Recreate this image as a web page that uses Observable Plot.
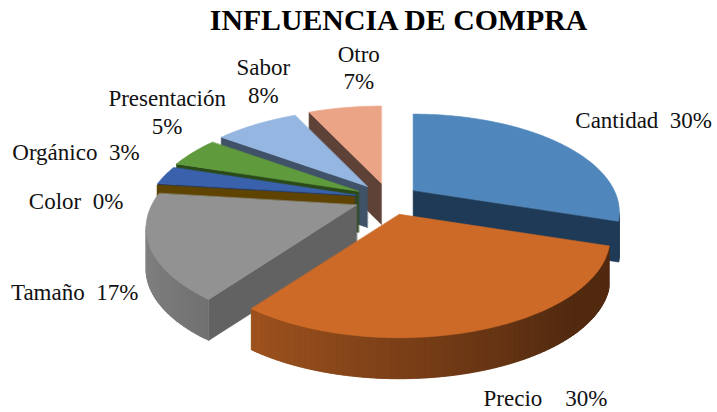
<!DOCTYPE html>
<html lang="es">
<head>
<meta charset="utf-8">
<script src="https://cdn.jsdelivr.net/npm/d3@7"></script>
<script src="https://cdn.jsdelivr.net/npm/@observablehq/plot@0.6"></script>
<style>
html,body{margin:0;padding:0;background:#fff;}
#title{height:36px;width:717px;text-align:center;padding-left:80px;box-sizing:border-box;font:bold 29.8px/39px "Liberation Serif",serif;color:#000;white-space:nowrap;}
svg{display:block;}
</style>
</head>
<body>
<div id="title">INFLUENCIA DE COMPRA</div>
<div id="chart"></div>
<script>
// Data
const categories = ["Cantidad","Precio","Tamaño","Color","Orgánico","Presentación","Sabor","Otro"];
const values = [30,30,17,0,3,5,8,7];
const nb = "\u00a0";
const labelSeparator = [nb+nb, nb+nb+nb+nb, nb+nb, nb+nb, nb+nb, "\n", "\n", "\n"];

// Styles
const topColors  = ["#4f87bc","#cd6a27","#929292","#ffc000","#3a62ac","#5f9a3c","#94b6e0","#eba486"];
const wallColors = ["#1f3a56","#5a2d0f","#626262","#5f4300","#233c69","#2a4a19","#3f5268","#5f4237"];
const labelOffsets = [[87,-23],[65,67],[-75,45],[-81,15],[-89,-24],[-26,-41],[7,-44],[14,-41]];
const sliceExplode = [0.15,0.165,0.165,0.165,0.165,0.165,0.165,0.165];
const sliceRadius  = [0.98,1,1,1,1,1,1,1];

// Projection of the tilted pie
const W = 717, H = 412, titleH = 36;
const cx = 388, cy = 198, a = 95, b = 205, k = 0.23, depth = 41;
const ax = 207, ay = 97.5, ak = 0.219;
const disc = (X, D) => {
  const w = 1 + k * D;
  return {x: b * X / w, y: -a * D / w};
};

const arcs = d3.pie().sort(null).startAngle(0).endAngle(2 * Math.PI)(values);
const slices = arcs.map((arc, i) => {
  const mid = (arc.startAngle + arc.endAngle) / 2;
  const ox = sliceExplode[i] * Math.sin(mid), oy = sliceExplode[i] * Math.cos(mid);
  const w = 1 + ak * oy;
  const apex = {x: cx + ax * ox / w, y: cy - ay * oy / w};
  const at = (theta, r, down) => {
    const p = disc(r * sliceRadius[i] * Math.sin(theta), r * sliceRadius[i] * Math.cos(theta));
    return {x: apex.x + p.x, y: apex.y + p.y + (down ? depth : 0)};
  };
  return {i, mid, start: arc.startAngle, end: arc.endAngle, at};
}).sort((p, q) => Math.cos(q.mid) - Math.cos(p.mid));

const shade = (hex, f) => {
  const c = d3.rgb(hex);
  return d3.rgb(c.r * f, c.g * f, c.b * f).formatHex();
};
const signedArea = (pts) => d3.sum(pts, (p, j) => {
  const q = pts[(j + 1) % pts.length];
  return p.x * q.y - q.x * p.y;
});

// Faces, painted from back to front
const faces = [];
let faceId = 0;
const addFace = (pts, color) => {
  const id = faceId++;
  pts.forEach(p => faces.push({id, x: p.x, y: p.y, color}));
};
for (const s of slices) {
  const steps = Math.max(1, Math.ceil((s.end - s.start) / (Math.PI / 120)));
  const thetas = d3.range(steps + 1).map(n => s.start + (s.end - s.start) * n / steps);
  const boundary = [
    {theta: 0, r: 0},
    ...thetas.map(theta => ({theta, r: 1})),
  ];
  const n = boundary.length;
  for (let j = 0; j < n; j++) {
    const P = boundary[j], Q = boundary[(j + 1) % n];
    const quad = [s.at(P.theta, P.r, false), s.at(Q.theta, Q.r, false), s.at(Q.theta, Q.r, true), s.at(P.theta, P.r, true)];
    if (signedArea(quad) >= 0) continue;
    let color = wallColors[s.i];
    if (P.r === 1 && Q.r === 1) {
      const X = Math.sin((P.theta + Q.theta) / 2);
      const f = Math.max(0.4, 0.6 - 0.29 * X);
      color = shade(topColors[s.i], f);
      // each strip runs under the next one so no seam shows
      const R = boundary[Math.min(j + 2, n - 1)];
      addFace([quad[0], s.at(R.theta, R.r, false), s.at(R.theta, R.r, true), quad[3]], color);
    } else {
      addFace(quad, color);
    }
  }
  if (s.end > s.start) addFace(boundary.map(p => s.at(p.theta, p.r, false)), topColors[s.i]);
}

// Labels, anchored to the rim of their slice
const labelMarks = slices.map(s => Plot.text(
  [{...s.at(s.mid, 1, false), text: categories[s.i] + labelSeparator[s.i] + values[s.i] + "%"}],
  {x: "x", y: "y", text: "text", dx: labelOffsets[s.i][0], dy: labelOffsets[s.i][1],
   fontSize: 23, fill: "#111", lineHeight: 1.2, textAnchor: "middle"}
));

const chart = Plot.plot({
  width: W, height: H - titleH,
  margin: 0,
  style: {fontFamily: '"Liberation Serif", serif', background: "#fff", overflow: "visible"},
  x: {domain: [0, W], range: [0, W], axis: null},
  y: {domain: [titleH, H], range: [0, H - titleH], axis: null},
  marks: [
    Plot.line(faces, {x: "x", y: "y", z: "id", fill: "color", stroke: "color", strokeWidth: 0.6, curve: "linear-closed"}),
    ...labelMarks
  ]
});
document.getElementById("chart").appendChild(chart);
</script>
</body>
</html>
